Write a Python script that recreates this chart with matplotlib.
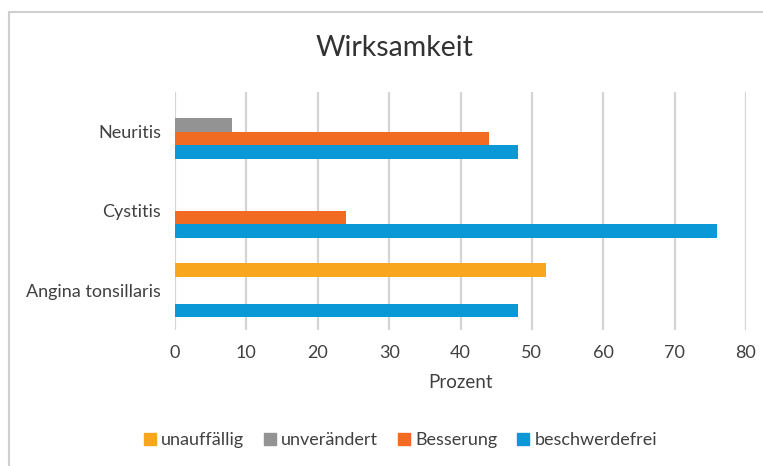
import matplotlib.pyplot as plt
from matplotlib.patches import Rectangle
from matplotlib.lines import Line2D
import numpy as np

plt.rcParams['font.family'] = ['Lato', 'DejaVu Sans']

# data (Prozent)
categories = ["Angina tonsillaris", "Cystitis", "Neuritis"]
series = ["beschwerdefrei", "Besserung", "unverändert", "unauffällig"]
beschwerdefrei = [48, 76, 48]
besserung = [0, 24, 44]
unveraendert = [0, 0, 8]
unauffaellig = [52, 0, 0]
values = [beschwerdefrei, besserung, unveraendert, unauffaellig]
colors = ["#0a99d6", "#f26b22", "#939393", "#f8a61d"]
xticks = [0, 10, 20, 30, 40, 50, 60, 70, 80]

W, H = 763, 466
fig = plt.figure(figsize=(W / 100, H / 100), dpi=100)

# outer chart frame
fig.patches.append(Rectangle((9 / W, -0.1), 1.2, 1 - 12 / H + 0.1,
                             transform=fig.transFigure, fill=False,
                             ec="#cfcfcf", lw=1.5))

ax = fig.add_axes([175 / W, 1 - 330 / H, 571 / W, 238 / H])

y = np.arange(len(categories))
h = 0.17
offsets = [-1.5 * h, -0.5 * h, 0.5 * h, 1.5 * h]
for vals, off, c in zip(values, offsets, colors):
    v = np.array(vals, dtype=float)
    mask = v > 0
    ax.barh(y[mask] + off, v[mask], height=h, color=c, lw=0, zorder=3)

ax.set_xlim(0, 80)
ax.set_ylim(-0.5, 2.5)
ax.set_xticks(xticks)
ax.set_yticks(y)
ax.set_yticklabels(categories)
ax.grid(axis="x", color="#d4d4d4", lw=1.6, zorder=0)
for s in ax.spines.values():
    s.set_visible(False)
ax.tick_params(length=0, labelsize=13, colors="#404040")
ax.tick_params(axis="x", pad=11)
ax.tick_params(axis="y", pad=10)
ax.set_xlabel("Prozent", fontsize=13.5, color="#404040", labelpad=9)

fig.text(394 / W, 1 - 48 / H, "Wirksamkeit", ha="center", va="center",
         fontsize=20.5, color="#333333")

handles = [Line2D([], [], marker="s", ls="", ms=9, mfc=c, mec=c)
           for c in [colors[3], colors[2], colors[1], colors[0]]]
labels = ["unauffällig", "unverändert", "Besserung", "beschwerdefrei"]
fig.legend(handles, labels, loc="center", bbox_to_anchor=(399 / W, 1 - 440 / H),
           ncol=4, frameon=False, fontsize=13, handletextpad=0.1,
           columnspacing=0.95, handlelength=1.0, labelcolor="#404040")

fig.savefig("out.png", dpi=100)
